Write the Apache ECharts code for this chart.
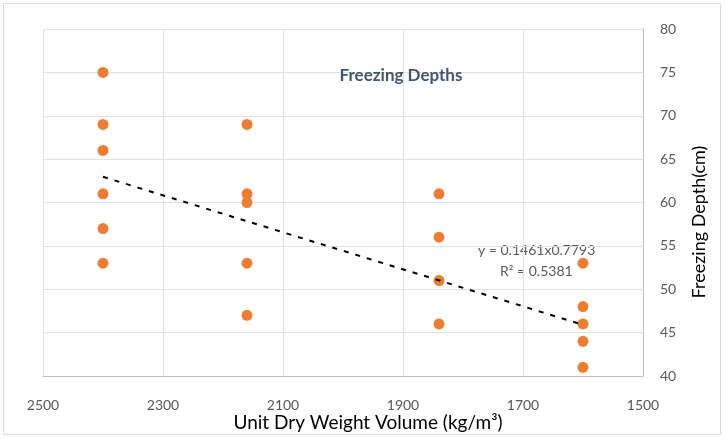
<!DOCTYPE html>
<html><head><meta charset="utf-8">
<script src="https://cdn.jsdelivr.net/npm/echarts@6/dist/echarts.min.js"></script>
<style>html,body{margin:0;padding:0;background:#fff}#c{width:725px;height:438px}</style>
</head><body><div id="c"></div>
<script>
// Data
var xCategories = [2400, 2160, 1840, 1600];
var depths2400 = [75, 69, 66, 61, 57, 53];
var depths2160 = [69, 61, 60, 53, 47];
var depths1840 = [61, 56, 51, 46];
var depths1600 = [53, 48, 46, 44, 41];
var trendX = [2400, 1600];
var trendY = [62.96, 45.9];
var xTicks = [1500, 1700, 1900, 2100, 2300, 2500];
var yTicks = [40, 45, 50, 55, 60, 65, 70, 75, 80];

var groups = [depths2400, depths2160, depths1840, depths1600];
var points = [];
groups.forEach(function (g, i) { g.forEach(function (v) { points.push([xCategories[i], v]); }); });
var trend = trendX.map(function (x, i) { return [x, trendY[i]]; });

var FONT = "Lato, 'Open Sans', sans-serif";
var chart = echarts.init(document.getElementById('c'));
chart.setOption({
  animation: false,
  backgroundColor: '#fff',
  title: {
    text: 'Freezing Depths', left: 396, top: 62, textAlign: 'center',
    textStyle: { color: '#44546A', fontSize: 17, fontWeight: 'bold', fontFamily: FONT }
  },
  grid: { left: 43, width: 600, top: 29, height: 347 },
  xAxis: {
    type: 'value', inverse: true, min: xTicks[0], max: xTicks[xTicks.length - 1], interval: 200,
    axisLine: { lineStyle: { color: '#BFBFBF' } }, axisTick: { show: false },
    axisLabel: { color: '#595959', fontSize: 14, fontFamily: FONT, margin: 22, formatter: function (v) { return String(v); } },
    splitLine: { lineStyle: { color: '#DDE1E8' } }
  },
  yAxis: {
    type: 'value', position: 'right', min: yTicks[0], max: yTicks[yTicks.length - 1], interval: 5,
    axisLine: { show: true, lineStyle: { color: '#BFBFBF' } }, axisTick: { show: false },
    axisLabel: { color: '#595959', fontSize: 14, fontFamily: FONT, margin: 17 },
    splitLine: { lineStyle: { color: '#DDE1E8' } }
  },
  series: [
    {
      type: 'scatter', data: points, symbolSize: 11,
      itemStyle: { color: '#ED7D31', opacity: 1 }, z: 3
    },
    {
      type: 'line', data: trend, symbol: 'none', z: 4,
      lineStyle: { color: '#000', width: 2, type: [5, 7] }
    }
  ],
  graphic: [
    { type: 'rect', shape: { x: 3.5, y: 3.5, width: 717, height: 431 }, style: { fill: 'none', stroke: '#D9D9D9', lineWidth: 1 } },
    { type: 'text', x: 368, y: 423, style: { text: 'Unit Dry Weight Volume (kg/m\u00B3)', fill: '#000', font: '19px ' + FONT, textAlign: 'center', textVerticalAlign: 'middle' } },
    { type: 'text', x: 699, y: 222, rotation: Math.PI / 2, style: { text: 'Freezing Depth(cm)', fill: '#000', font: '18px ' + FONT, textAlign: 'center', textVerticalAlign: 'middle' } },
    { type: 'text', left: 478, top: 243, style: { text: 'y = 0.1461x0.7793', fill: '#595959', font: '14px ' + FONT } },
    { type: 'text', left: 500, top: 264, style: { text: 'R\u00B2 = 0.5381', fill: '#595959', font: '14px ' + FONT } }
  ]
});
</script></body></html>
